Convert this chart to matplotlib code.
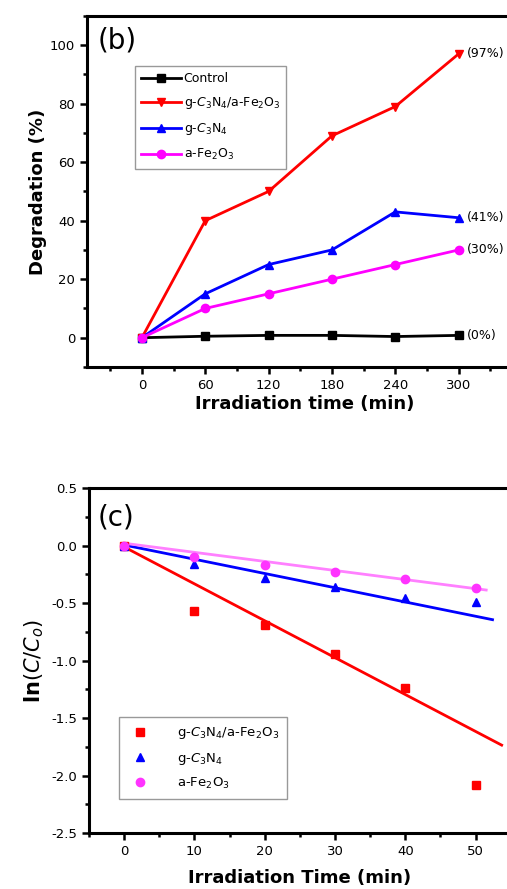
import numpy as np
import matplotlib.pyplot as plt
from matplotlib.ticker import MultipleLocator

# Panel (b): degradation vs irradiation time
time_b = [0, 60, 120, 180, 240, 300]
control = [0, 0.5, 0.8, 0.8, 0.4, 0.8]
composite = [0, 40, 50, 69, 79, 97]
gcn = [0, 15, 25, 30, 43, 41]
fe2o3 = [0, 10, 15, 20, 25, 30]
end_labels = ["(0%)", "(97%)", "(41%)", "(30%)"]

# Panel (c): ln(C/Co) kinetics
time_c = [0, 10, 20, 30, 40, 50]
ln_composite = [0, -0.57, -0.69, -0.94, -1.24, -2.08]
ln_gcn = [0, -0.16, -0.28, -0.36, -0.46, -0.49]
ln_fe2o3 = [0, -0.10, -0.17, -0.23, -0.29, -0.37]
# linear fits (slope, intercept, x end)
fit_slope = [-0.0321, -0.0124, -0.0079]
fit_icpt = [-0.012, 0.005, 0.02]
fit_xend = [53.7, 52.4, 51.5]

lab_comp = r"g-$C_3$N$_4$/a-Fe$_2$O$_3$"
lab_gcn = r"g-$C_3$N$_4$"
lab_fe = r"a-Fe$_2$O$_3$"

plt.rcParams['font.family'] = 'DejaVu Sans'
plt.rcParams['mathtext.fontset'] = 'dejavusans'

fig = plt.figure(figsize=(5.07, 8.89), dpi=100)


def style_axes(ax):
    for s in ax.spines.values():
        s.set_linewidth(2.2)
    ax.tick_params(which='major', direction='out', length=5, width=1.8,
                   labelsize=9.5)
    ax.tick_params(which='minor', direction='out', length=3, width=1.8)
    ax.tick_params(top=False, right=False)


# ---- (b) ----
ax1 = fig.add_axes([0.1716, 0.5872, 0.858, 0.395])
series = [(control, 'k', 's', 'Control'),
          (composite, 'red', 'v', lab_comp),
          (gcn, 'blue', '^', lab_gcn),
          (fe2o3, 'magenta', 'o', lab_fe)]
for (y, c, m, lab), txt in zip(series, end_labels):
    ax1.plot(time_b, y, color=c, marker=m, markersize=6, linewidth=2, label=lab)
    ax1.annotate(txt, (time_b[-1], y[-1]), xytext=(6, 0),
                 textcoords='offset points', va='center', fontsize=9)
ax1.set_xlim(-52, 360)
ax1.set_ylim(-10, 110)
ax1.set_xticks(time_b)
ax1.xaxis.set_minor_locator(MultipleLocator(30))
ax1.set_yticks([0, 20, 40, 60, 80, 100])
ax1.yaxis.set_minor_locator(MultipleLocator(10))
style_axes(ax1)
ax1.set_xlabel('Irradiation time (min)', fontsize=13, fontweight='bold',
               labelpad=2)
ax1.set_ylabel('Degradation (%)', fontsize=13, fontweight='bold', labelpad=2)
ax1.text(0.025, 0.93, '(b)', transform=ax1.transAxes, fontsize=20, va='center')
leg1 = ax1.legend(loc='upper left', bbox_to_anchor=(0.11, 0.857), fontsize=9,
                  handlelength=3.2, fancybox=False, edgecolor='gray',
                  borderpad=0.5, labelspacing=0.8, handletextpad=0.2,
                  borderaxespad=0)
leg1.get_frame().set_linewidth(1)

# ---- (c) ----
ax2 = fig.add_axes([0.1755, 0.063, 0.832, 0.388])
pts = [(ln_composite, 'red', 's', lab_comp),
       (ln_gcn, 'blue', '^', lab_gcn),
       (ln_fe2o3, '#ff33ff', 'o', lab_fe)]
line_cols = ['red', 'blue', '#ff80ff']
for i, (y, c, m, lab) in enumerate(pts):
    ax2.plot(time_c, y, linestyle='none', marker=m, color=c, markersize=6,
             label=lab, zorder=3)
    xf = np.array([0, fit_xend[i]])
    ax2.plot(xf, fit_slope[i] * xf + fit_icpt[i], color=line_cols[i],
             linewidth=2, zorder=2)
ax2.set_xlim(-5, 55)
ax2.set_ylim(-2.5, 0.5)
ax2.set_xticks(time_c)
ax2.xaxis.set_minor_locator(MultipleLocator(5))
ax2.set_yticks(np.arange(-2.5, 0.51, 0.5))
ax2.yaxis.set_major_formatter(plt.FormatStrFormatter('%.1f'))
ax2.yaxis.set_minor_locator(MultipleLocator(0.25))
style_axes(ax2)
ax2.set_xlabel('Irradiation Time (min)', fontsize=13, fontweight='bold',
               labelpad=8)
ax2.set_ylabel(r'ln$\left(C/C_o\right)$', fontsize=15, fontweight='bold',
               labelpad=4)
ax2.text(0.02, 0.915, '(c)', transform=ax2.transAxes, fontsize=20, va='center')
leg2 = ax2.legend(loc='lower left', bbox_to_anchor=(0.071, 0.099),
                  fontsize=9.5, fancybox=False, edgecolor='gray',
                  borderpad=0.6, labelspacing=0.7, handletextpad=1.8,
                  borderaxespad=0)
leg2.get_frame().set_linewidth(1)

fig.savefig('out.png', dpi=100)
